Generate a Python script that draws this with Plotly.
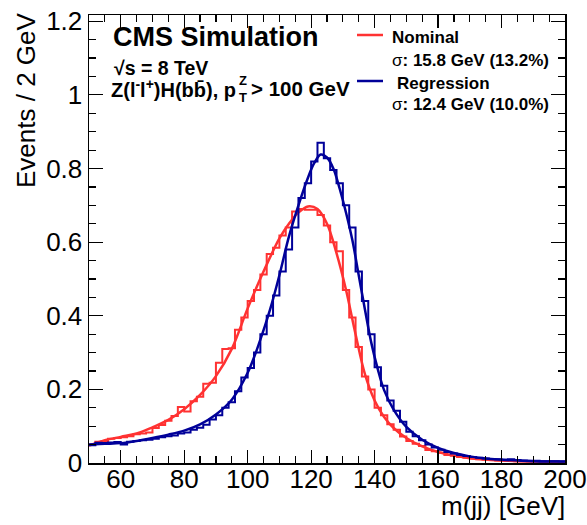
import numpy as np
import plotly.graph_objects as go

# ---------------- data ----------------
bin_width = 2.0
x_low, x_high = 50.0, 200.0

# histogram contents, bins of 2 GeV from 50 to 200 (75 bins)
nominal_hist = [
    0.050, 0.058, 0.060, 0.066, 0.068, 0.070, 0.073, 0.078, 0.080, 0.083,
    0.095, 0.103, 0.115, 0.128, 0.152, 0.140, 0.168, 0.180, 0.215, 0.218,
    0.272, 0.310, 0.312, 0.362, 0.395, 0.440, 0.470, 0.512, 0.568, 0.585,
    0.618, 0.640, 0.683, 0.690, 0.688, 0.688, 0.674, 0.645, 0.600, 0.575,
    0.470, 0.395, 0.315, 0.235, 0.200, 0.150, 0.130, 0.105, 0.090, 0.072,
    0.060, 0.052, 0.046, 0.035, 0.032, 0.028, 0.022, 0.020, 0.016, 0.014,
    0.012, 0.010, 0.009, 0.008, 0.007, 0.007, 0.006, 0.005, 0.005, 0.004,
    0.005, 0.004, 0.003, 0.004, 0.003,
]
regression_hist = [
    0.048, 0.055, 0.054, 0.056, 0.057, 0.050, 0.058, 0.060, 0.062, 0.063,
    0.066, 0.070, 0.073, 0.075, 0.080, 0.083, 0.090, 0.096, 0.104, 0.118,
    0.130, 0.150, 0.165, 0.195, 0.232, 0.258, 0.300, 0.350, 0.400, 0.455,
    0.520, 0.580, 0.640, 0.720, 0.760, 0.819, 0.870, 0.828, 0.796, 0.760,
    0.700, 0.640, 0.520, 0.440, 0.350, 0.260, 0.210, 0.170, 0.142, 0.112,
    0.085, 0.073, 0.062, 0.050, 0.042, 0.036, 0.030, 0.026, 0.022, 0.019,
    0.016, 0.014, 0.012, 0.011, 0.010, 0.009, 0.010, 0.008, 0.007, 0.006,
    0.006, 0.005, 0.005, 0.005, 0.004,
]

nominal_fit_x = [50, 55, 60, 65, 70, 75, 80, 85, 90, 95, 100, 105, 110, 113, 116,
                 119, 122, 125, 128, 131, 134, 137, 140, 143, 146, 150, 155, 160,
                 165, 170, 180, 190, 200]
nominal_fit_y = [0.047, 0.062, 0.071, 0.080, 0.097, 0.117, 0.146, 0.185, 0.236,
                 0.310, 0.420, 0.520, 0.610, 0.650, 0.680, 0.697, 0.690, 0.650,
                 0.570, 0.470, 0.350, 0.240, 0.170, 0.125, 0.095, 0.068, 0.045,
                 0.030, 0.020, 0.013, 0.007, 0.004, 0.003]

regression_fit_x = [50, 55, 60, 65, 70, 75, 80, 85, 90, 95, 100, 104, 107, 110, 113,
                    116, 119, 121, 123, 125, 127, 129, 131, 133, 135, 137, 139, 141,
                    143, 146, 150, 155, 160, 165, 170, 175, 180, 190, 200]
regression_fit_y = [0.050, 0.052, 0.054, 0.060, 0.068, 0.077, 0.088, 0.105, 0.132,
                    0.172, 0.245, 0.335, 0.415, 0.510, 0.615, 0.700, 0.775, 0.815,
                    0.838, 0.830, 0.800, 0.745, 0.680, 0.605, 0.510, 0.415, 0.325,
                    0.255, 0.198, 0.145, 0.098, 0.063, 0.041, 0.027, 0.018, 0.012,
                    0.009, 0.005, 0.004]

legend_names = ["Nominal", "Regression"]
legend_sigmas = ["15.8 GeV (13.2%)", "12.4 GeV (10.0%)"]

# ---------------- style ----------------
RED = "rgb(255,50,50)"
BLUE = "rgb(0,0,153)"
FONT = "Liberation Sans, Arial, Helvetica, sans-serif"

W, H = 587, 525
ML, MR, MT, MB = 89, 22, 15, 62
PW, PH = W - ML - MR, H - MT - MB


def px(xp):
    return (xp - ML) / PW


def py(yp):
    return (H - MB - yp) / PH


edges = np.arange(x_low, x_high + bin_width / 2, bin_width)


def step_y(vals):
    return list(vals) + [vals[-1]]


fig = go.Figure()
fig.add_trace(go.Scatter(x=edges, y=step_y(nominal_hist), mode="lines",
                         line=dict(color=RED, width=2, shape="hv"),
                         showlegend=False, hoverinfo="skip"))
fig.add_trace(go.Scatter(x=nominal_fit_x, y=nominal_fit_y, mode="lines",
                         line=dict(color=RED, width=2.5, shape="spline", smoothing=1.0),
                         showlegend=False, hoverinfo="skip"))
fig.add_trace(go.Scatter(x=edges, y=step_y(regression_hist), mode="lines",
                         line=dict(color=BLUE, width=2, shape="hv"),
                         showlegend=False, hoverinfo="skip"))
fig.add_trace(go.Scatter(x=regression_fit_x, y=regression_fit_y, mode="lines",
                         line=dict(color=BLUE, width=2.5, shape="spline", smoothing=1.0),
                         showlegend=False, hoverinfo="skip"))

axis_common = dict(
    showline=True, linecolor="black", linewidth=1.5, mirror="allticks",
    ticks="inside", tickcolor="black", tickwidth=1.2,
    showgrid=False, zeroline=False, automargin=False,
    ticklabeloverflow="allow",
    tickfont=dict(family=FONT, size=26, color="black"),
)

fig.update_xaxes(range=[x_low, x_high], dtick=20, tick0=0, ticklen=13,
                 ticklabelstandoff=-8,
                 minor=dict(dtick=5, ticklen=7, ticks="inside", tickcolor="black", tickwidth=1.2),
                 **axis_common)
fig.update_yaxes(range=[0, 1.217], dtick=0.2, tick0=0, ticklen=14,
                 minor=dict(dtick=0.05, ticklen=7, ticks="inside", tickcolor="black", tickwidth=1.2),
                 **axis_common)

ann = []
# axis titles
ann.append(dict(text="Events / 2 GeV", xref="paper", yref="paper", x=px(26), y=py(10),
                xanchor="center", yanchor="top", textangle=-90, showarrow=False,
                font=dict(family=FONT, size=26, color="black")))
ann.append(dict(text="m(jj) [GeV]", xref="paper", yref="paper", x=px(567), y=py(506),
                xanchor="right", yanchor="middle", showarrow=False,
                font=dict(family=FONT, size=26, color="black")))
# CMS labels
ann.append(dict(text="<b>CMS Simulation</b>", xref="paper", yref="paper", x=px(111), y=py(37),
                xanchor="left", yanchor="middle", showarrow=False,
                font=dict(family=FONT, size=27, color="black")))
ann.append(dict(text="<b>√s = 8 TeV</b>", xref="paper", yref="paper", x=px(112), y=py(68),
                xanchor="left", yanchor="middle", showarrow=False,
                font=dict(family=FONT, size=19.5, color="black")))
ann.append(dict(text="<b>Z(l<sup>-</sup>l<sup>+</sup>)H(bb\u0304), p</b>", xref="paper", yref="paper",
                x=px(238), y=py(89), xanchor="right", yanchor="middle", showarrow=False,
                font=dict(family=FONT, size=20, color="black")))
ann.append(dict(text="<b>Z</b>", xref="paper", yref="paper", x=px(243), y=py(80),
                xanchor="center", yanchor="middle", showarrow=False,
                font=dict(family=FONT, size=13, color="black")))
ann.append(dict(text="<b>T</b>", xref="paper", yref="paper", x=px(243), y=py(97),
                xanchor="center", yanchor="middle", showarrow=False,
                font=dict(family=FONT, size=13, color="black")))
ann.append(dict(text="<b>> 100 GeV</b>", xref="paper", yref="paper", x=px(249), y=py(89),
                xanchor="left", yanchor="middle", showarrow=False,
                font=dict(family=FONT, size=20.5, color="black")))

# legend
shapes = []
leg_rows = [(37, 61, RED, 390), (83, 104, BLUE, 395)]
for (y1, y2, col, xname), name, sig in zip(leg_rows, legend_names, legend_sigmas):
    shapes.append(dict(type="line", xref="paper", yref="paper",
                       x0=px(357), x1=px(383), y0=py(y1 - 2), y1=py(y1 - 2),
                       line=dict(color=col, width=2.5)))
    ann.append(dict(text="<b>" + name + "</b>", xref="paper", yref="paper", x=px(xname), y=py(y1),
                    xanchor="left", yanchor="middle", showarrow=False,
                    font=dict(family=FONT, size=17, color="black")))
    ann.append(dict(text="σ<b>: " + sig + "</b>", xref="paper", yref="paper", x=px(390), y=py(y2),
                    xanchor="left", yanchor="middle", showarrow=False,
                    font=dict(family=FONT, size=17, color="black")))

fig.update_layout(
    width=W, height=H,
    margin=dict(l=ML, r=MR, t=MT, b=MB, pad=0),
    paper_bgcolor="white", plot_bgcolor="white",
    annotations=ann, shapes=shapes,
    showlegend=False,
)

# remove the default 8px page margin so the figure sits at the window origin
fig.write_html("out.html",
               config={"displayModeBar": False, "staticPlot": True},
               post_script="document.body.style.margin='0';document.body.style.overflow='hidden';")
